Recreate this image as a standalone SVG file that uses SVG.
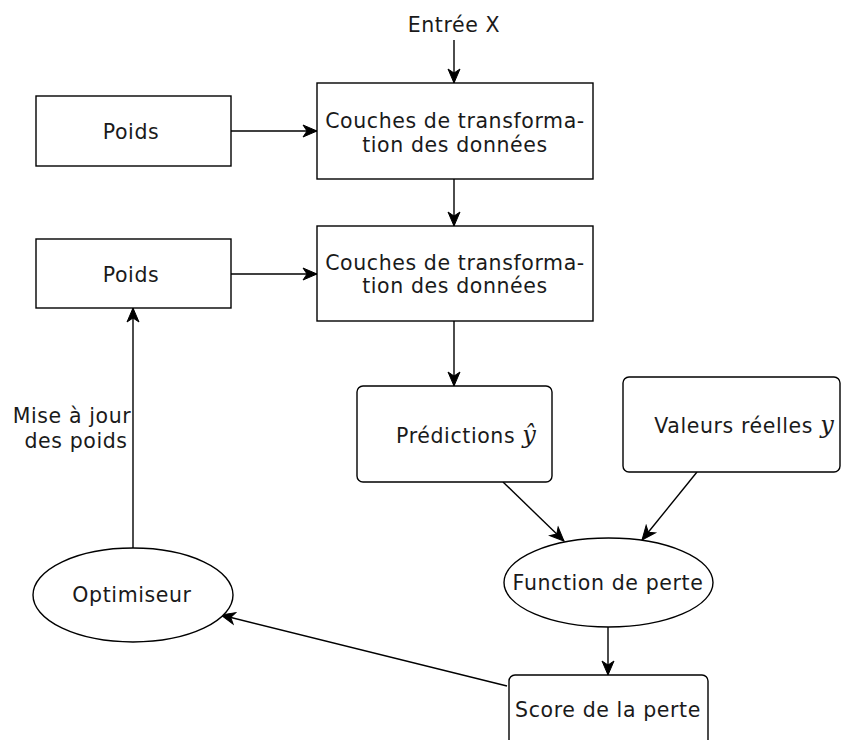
<svg xmlns="http://www.w3.org/2000/svg" width="842" height="740" viewBox="0 0 842 740">
<defs>
<marker id="arr" markerUnits="userSpaceOnUse" markerWidth="18" markerHeight="16" viewBox="-1 -8 18 16" refX="14" refY="0" orient="auto">
<path d="M0,-6 L14,0 L0,6 L4,0 Z" fill="#000" stroke="#000" stroke-width="1"/>
</marker>
<style>
.box{fill:#fff;stroke:#000;stroke-width:1.4}
.lbl{font-family:"DejaVu Sans",Verdana,sans-serif;font-size:20.5px;fill:#1a1a1a;text-anchor:middle;letter-spacing:0.6px}
.math{font-family:"DejaVu Serif","Liberation Serif",serif;font-style:italic;font-size:24px;letter-spacing:0}
.edge{fill:none;stroke:#000;stroke-width:1.4;marker-end:url(#arr)}
</style>
</defs>
<rect width="842" height="740" fill="#fff"/>
<g id="connectors">
<path class="edge" d="M454,40 L454,83"/>
<path class="edge" d="M231,131 L317,131"/>
<path class="edge" d="M454,179 L454,226"/>
<path class="edge" d="M231,274 L317,274"/>
<path class="edge" d="M454,321 L454,386"/>
<path class="edge" d="M503,482 L564,541"/>
<path class="edge" d="M697,472 L642,540"/>
<path class="edge" d="M608,627 L608,675"/>
<path class="edge" d="M507,686 L221,615"/>
<path class="edge" d="M133,548 L133,308"/>
<text class="lbl" x="72" y="423">Mise à jour</text>
<text class="lbl" x="76" y="448">des poids</text>
</g>
<g id="input"><text class="lbl" x="454" y="32">Entrée X</text></g>
<g id="poids1"><rect class="box" x="36" y="96" width="195" height="70"/><text class="lbl" x="131" y="139">Poids</text></g>
<g id="couches1"><rect class="box" x="317" y="83" width="276" height="96"/><text class="lbl" x="455" y="128">Couches de transforma-</text><text class="lbl" x="455" y="152">tion des données</text></g>
<g id="poids2"><rect class="box" x="36" y="239" width="195" height="69"/><text class="lbl" x="131" y="282">Poids</text></g>
<g id="couches2"><rect class="box" x="317" y="226" width="276" height="95"/><text class="lbl" x="455" y="270">Couches de transforma-</text><text class="lbl" x="455" y="293">tion des données</text></g>
<g id="predictions"><rect class="box" x="357" y="386" width="195" height="96" rx="6"/><text class="lbl" x="466" y="443">Prédictions <tspan class="math">ŷ</tspan></text></g>
<g id="valeurs"><rect class="box" x="623" y="377" width="217" height="95" rx="6"/><text class="lbl" x="744" y="433">Valeurs réelles <tspan class="math">y</tspan></text></g>
<g id="fonction"><ellipse class="box" cx="608.5" cy="582.5" rx="104.5" ry="44.5"/><text class="lbl" x="608" y="590">Function de perte</text></g>
<g id="optimiseur"><ellipse class="box" cx="133" cy="595" rx="100" ry="47"/><text class="lbl" x="132" y="602">Optimiseur</text></g>
<g id="score"><rect class="box" x="509" y="675" width="199" height="80" rx="6"/><text class="lbl" x="608" y="717">Score de la perte</text></g>
</svg>
